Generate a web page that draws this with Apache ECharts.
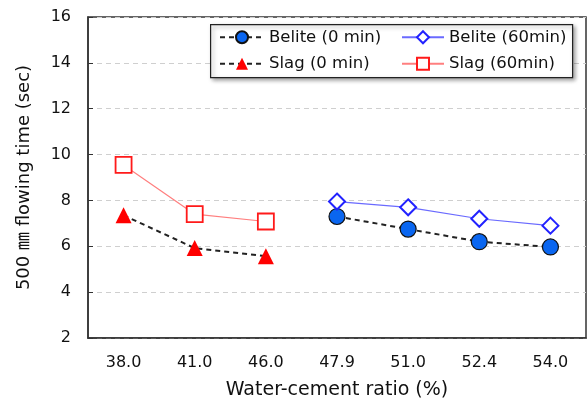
<!DOCTYPE html>
<html>
<head>
<meta charset="utf-8">
<script src="https://cdn.jsdelivr.net/npm/echarts@6/dist/echarts.min.js"></script>
<style>
  html, body { margin: 0; padding: 0; background: #fff; }
  #chart { width: 588px; height: 399px; }
</style>
</head>
<body>
<div id="chart"></div>
<script>
var ratios = ['38.0', '41.0', '46.0', '47.9', '51.0', '52.4', '54.0'];
var belite0 = [null, null, null, 7.3, 6.75, 6.2, 5.97];
var belite60 = [null, null, null, 7.95, 7.7, 7.2, 6.9];
var slag0 = [7.35, 5.92, 5.57, null, null, null, null];
var slag60 = [9.55, 7.4, 7.08, null, null, null, null];

var font = '"DejaVu Sans", "Noto Sans CJK KR", sans-serif';

var chart = echarts.init(document.getElementById('chart'));
chart.setOption({
    animation: false,
    grid: {
        left: 88, right: 2, top: 17, bottom: 61,
        outerBoundsMode: 'none',
        show: true, borderColor: '#333', borderWidth: 1.5
    },
    graphic: [{
        type: 'rect',
        left: 210, top: 24,
        shape: { width: 362, height: 53 },
        style: {
            fill: '#fff', stroke: '#222', lineWidth: 1.2,
            shadowBlur: 4, shadowOffsetX: 2, shadowOffsetY: 2, shadowColor: 'rgba(0,0,0,0.35)'
        },
        z: 10
    }],
    legend: [{
        orient: 'vertical',
        left: 219, top: 29,
        padding: 0,
        itemWidth: 44, itemHeight: 15, itemGap: 10,
        textStyle: { fontFamily: font, fontSize: 16.5, color: '#111' },
        data: ['Belite (0 min)', 'Slag (0 min)'],
        z: 20
    }, {
        orient: 'vertical',
        left: 401, top: 29,
        padding: 0,
        itemWidth: 42, itemHeight: 15, itemGap: 10,
        textStyle: { fontFamily: font, fontSize: 16.5, color: '#111' },
        data: ['Belite (60min)', 'Slag (60min)'],
        z: 20
    }],
    xAxis: {
        type: 'category',
        data: ratios,
        boundaryGap: true,
        name: 'Water-cement ratio (%)',
        nameLocation: 'middle',
        nameGap: 43,
        nameTextStyle: { fontFamily: font, fontSize: 19, color: '#111' },
        axisLine: { lineStyle: { color: '#333', width: 1.5 } },
        axisTick: { inside: true, length: 4, alignWithLabel: true, lineStyle: { color: '#333' } },
        axisLabel: { fontFamily: font, fontSize: 16, color: '#111', margin: 17 },
        splitLine: { show: false }
    },
    yAxis: {
        type: 'value',
        min: 2, max: 16, interval: 2,
        name: '500 ㎜ flowing time (sec)',
        nameLocation: 'middle',
        nameGap: 55,
        nameTextStyle: { fontFamily: font, fontSize: 18, color: '#111' },
        axisLine: { show: true, lineStyle: { color: '#333', width: 1.5 } },
        axisTick: { show: true, inside: true, length: 5, lineStyle: { color: '#333' } },
        axisLabel: { fontFamily: font, fontSize: 16, color: '#111', margin: 17 },
        splitLine: { show: true, lineStyle: { color: '#cfcfcf', type: [5, 4], width: 1 } }
    },
    series: [{
        name: 'Belite (0 min)',
        type: 'line',
        data: belite0,
        symbol: 'circle',
        symbolSize: 16,
        itemStyle: { color: '#0a66f0', borderColor: '#111', borderWidth: 1.2 },
        lineStyle: { color: '#222', width: 2, type: [5, 4] },
        z: 3
    }, {
        name: 'Belite (60min)',
        type: 'line',
        data: belite60,
        symbol: 'diamond',
        symbolSize: 16,
        itemStyle: { color: '#fff', borderColor: '#2222ff', borderWidth: 2 },
        lineStyle: { color: '#6a6aff', width: 1.2 },
        z: 4
    }, {
        name: 'Slag (0 min)',
        type: 'line',
        data: slag0,
        symbol: 'triangle',
        symbolSize: 16,
        itemStyle: { color: '#ff0000', borderWidth: 0 },
        lineStyle: { color: '#222', width: 2, type: [5, 4] },
        z: 3
    }, {
        name: 'Slag (60min)',
        type: 'line',
        data: slag60,
        symbol: 'rect',
        symbolSize: 16,
        itemStyle: { color: '#fff', borderColor: '#ff1a1a', borderWidth: 1.8 },
        lineStyle: { color: '#ff7f7f', width: 1.2 },
        z: 4
    }]
});
</script>
</body>
</html>
